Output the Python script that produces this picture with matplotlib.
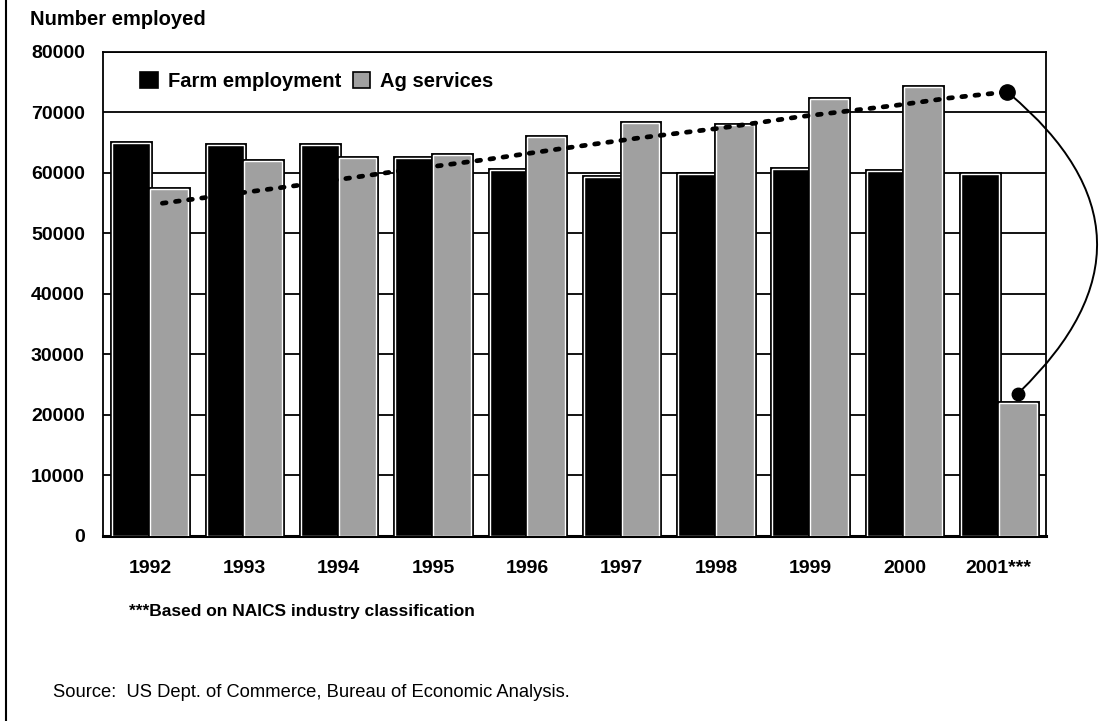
import matplotlib
matplotlib.use("Agg")
import matplotlib.pyplot as plt
import matplotlib.patheffects as pe
from matplotlib.patches import FancyArrowPatch, Rectangle
from matplotlib.lines import Line2D

years = ['1992', '1993', '1994', '1995', '1996', '1997', '1998', '1999', '2000', '2001***']
farm = [65000, 64600, 64600, 62400, 60500, 59400, 59750, 60700, 60400, 59800]
ag_services = [57300, 62000, 62400, 63050, 65950, 68250, 68000, 72300, 74200, 22000]

# hand-drawn trend line through the ag services bars
trend_x = [0.13, 1.59, 2.58, 3.60, 4.35, 5.19, 6.04, 6.89, 7.92, 8.48, 9.09]
trend_y = [55000, 58000, 60200, 62300, 64000, 65800, 67400, 69300, 71200, 72400, 73400]
# where the 2001 ag services value would be on that trend
link_top = (9.09, 73400)
link_bottom = (9.2, 23500)

plt.rcParams['font.family'] = ['Liberation Sans', 'DejaVu Sans']
plt.rcParams['font.weight'] = 'bold'

fig = plt.figure(figsize=(11.01, 7.21), dpi=100)
ax = fig.add_axes([0.0935, 0.2566, 0.8565, 0.6713])

x = list(range(len(years)))
w = 0.4
edge = [pe.Stroke(linewidth=3.5, foreground='black'), pe.Normal()]
ax.bar([i - w / 2 for i in x], farm, width=w, color='black', edgecolor='white',
       linewidth=1.0, path_effects=edge, zorder=3)
ax.bar([i + w / 2 for i in x], ag_services, width=w, color='#a0a0a0', edgecolor='white',
       linewidth=1.0, path_effects=edge, zorder=3)

ax.plot(trend_x, trend_y, color='black', lw=3.4, linestyle=(0, (0.8, 2.0)),
        dash_capstyle='round', zorder=5)

ax.plot(*link_top, 'o', color='black', ms=11, zorder=6, clip_on=False)
ax.plot(*link_bottom, 'o', color='black', ms=9, zorder=6, clip_on=False)
arc = FancyArrowPatch(link_top, link_bottom, connectionstyle='arc3,rad=-0.56',
                      arrowstyle='-', lw=1.4, color='black', zorder=6, clip_on=False)
ax.add_patch(arc)

ax.set_xlim(-0.5, 9.5)
ax.set_ylim(0, 80000)
ax.set_yticks(range(0, 80001, 10000))
ax.set_xticks(x)
ax.set_xticklabels(years)
ax.yaxis.grid(True, color='black', lw=1.3, zorder=1)
ax.set_axisbelow(True)
ax.tick_params(axis='both', length=0, labelsize=14)
ax.tick_params(axis='x', pad=17)
ax.tick_params(axis='y', pad=13)
for t in ax.get_xticklabels() + ax.get_yticklabels():
    t.set_fontweight('bold')
for side in ['top', 'left', 'right']:
    ax.spines[side].set_linewidth(1.3)
ax.spines['bottom'].set_linewidth(2.2)

handles = [Rectangle((0, 0), 1, 1, facecolor='black', edgecolor='black', lw=1.2),
           Rectangle((0, 0), 1, 1, facecolor='#a0a0a0', edgecolor='black', lw=1.2)]
ax.legend(handles, ['Farm employment', 'Ag services'], ncol=2, frameon=False,
          loc='upper left', bbox_to_anchor=(0.0205, 0.997), handlelength=0.85,
          handleheight=0.85, handletextpad=0.5, columnspacing=0.6,
          prop={'size': 14.5, 'weight': 'bold'})

fig.text(0.027, 0.973, 'Number employed', fontsize=14.5, fontweight='bold', va='center')
fig.text(0.117, 0.152, '***Based on NAICS industry classification', fontsize=12.5,
         fontweight='bold', va='center')
fig.text(0.048, 0.039, 'Source:  US Dept. of Commerce, Bureau of Economic Analysis.',
         fontsize=13.2, fontweight='normal', va='center')

fig.add_artist(Line2D([0.0055, 0.0055], [0, 1], color='black', lw=1.5,
                      transform=fig.transFigure))

fig.savefig('out.png', dpi=100)
